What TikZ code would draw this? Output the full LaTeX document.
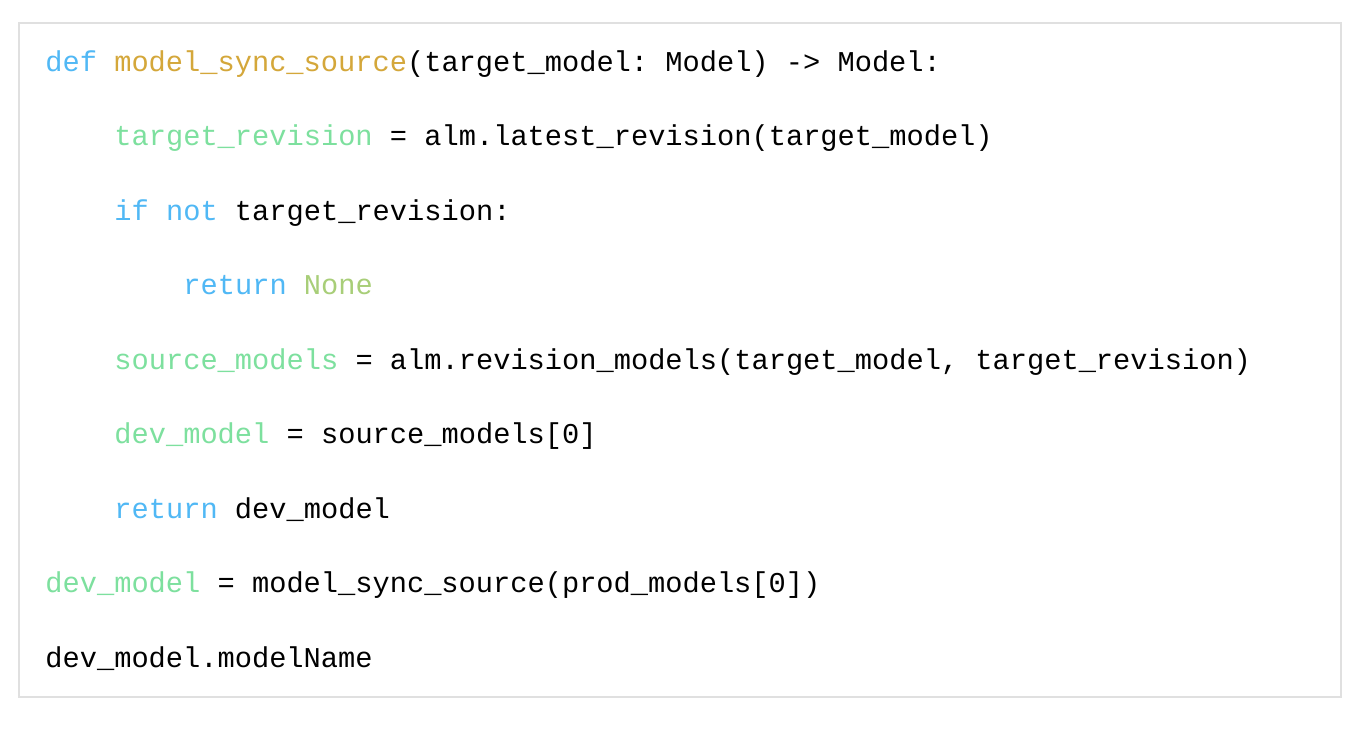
\documentclass[tikz,border=0pt]{standalone}
\usepackage{fontspec}
\newfontfamily\codefont{Liberation Mono}
\usepackage{tikz}

\definecolor{kwblue}{RGB}{80,184,245}
\definecolor{fnorange}{RGB}{212,167,58}
\definecolor{vargreen}{RGB}{125,224,158}
\definecolor{constgreen}{RGB}{168,206,120}
\definecolor{boxgray}{RGB}{224,224,224}

\newcommand{\kw}[1]{{\color{kwblue}#1}}
\newcommand{\fn}[1]{{\color{fnorange}#1}}
\newcommand{\var}[1]{{\color{vargreen}#1}}
\newcommand{\const}[1]{{\color{constgreen}#1}}

\begin{document}
\frenchspacing
\begin{tikzpicture}[x=0.5pt,y=-0.5pt,
		codeline/.style={anchor=base west,inner sep=0pt,font=\codefont\fontsize{14.35pt}{16pt}\selectfont\frenchspacing,text=black}]
			\useasboundingbox (0,0) rectangle (1368,728);
			\fill[white] (0,0) rectangle (1368,728);
			\draw[boxgray,line width=1pt] (19,23) rectangle (1341,697);
			\node[codeline] (def) at (45,71) {\kw{def} \fn{model\_sync\_source}(target\_model: Model) -> Model:};
			\node[codeline] (rev) at (114,145.5) {\var{target\_revision} = alm.latest\_revision(target\_model)};
			\node[codeline] (cond) at (114,220) {\kw{if} \kw{not} target\_revision:};
			\node[codeline] (none) at (183,294.5) {\kw{return} \const{None}};
			\node[codeline] (src) at (114,369) {\var{source\_models} = alm.revision\_models(target\_model, target\_revision)};
			\node[codeline] (dev) at (114,443.5) {\var{dev\_model} = source\_models[0]};
			\node[codeline] (ret) at (114,518) {\kw{return} dev\_model};
			\node[codeline] (call) at (45,592.5) {\var{dev\_model} = model\_sync\_source(prod\_models[0])};
			\node[codeline] (name) at (45,667) {dev\_model.modelName};
		\end{tikzpicture}
\end{document}
